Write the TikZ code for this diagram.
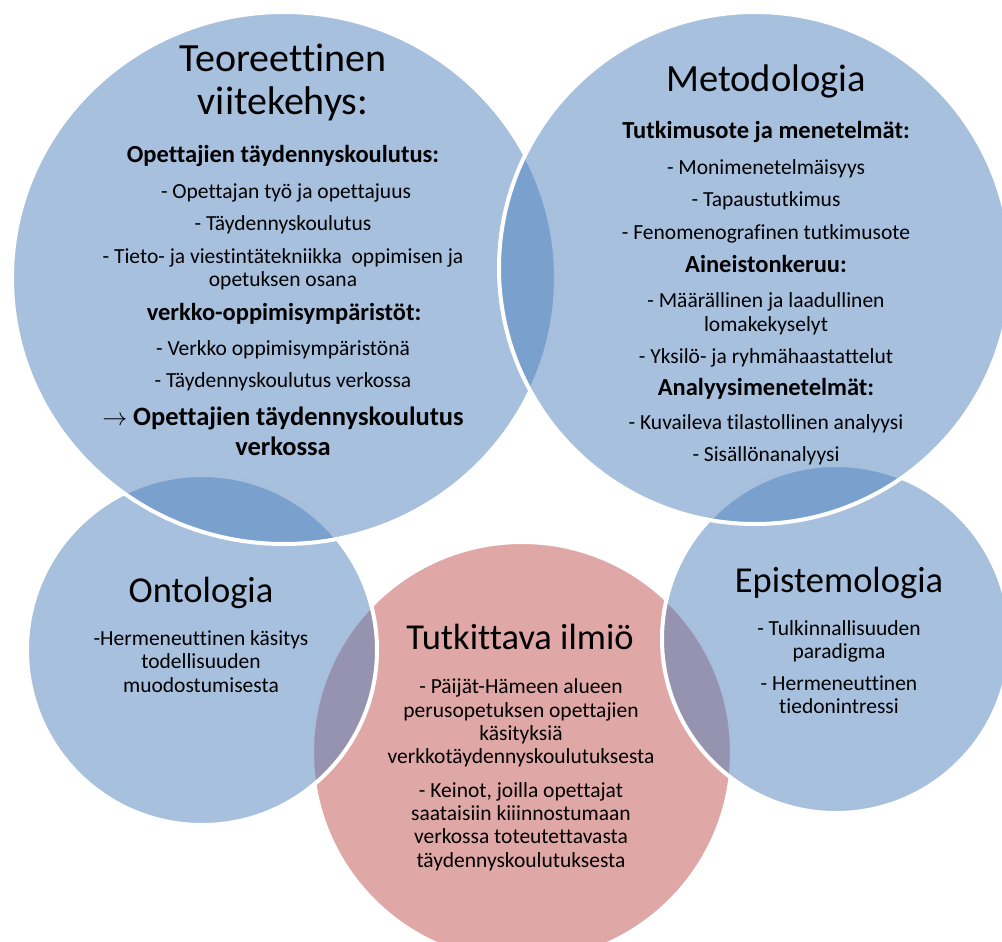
\documentclass[tikz,border=0pt]{standalone}
\usepackage{fontspec}
\setmainfont{Carlito}[RawFeature={-liga;-clig;-calt;-ccmp;-rlig;-dlig}]
\definecolor{vblue}{RGB}{79,129,189}
\definecolor{vred}{RGB}{192,80,77}
\begin{document}
\begin{tikzpicture}[x=1pt,y=-1pt,
  blob/.style={fill opacity=0.5, draw=white, line width=4pt},
  ttl/.style={anchor=base, inner sep=0pt, font=\fontsize{36.5}{40}\selectfont},
  ttlb/.style={anchor=base, inner sep=0pt, font=\fontsize{38.5}{42}\selectfont},
  ttlc/.style={anchor=base, inner sep=0pt, font=\fontsize{40}{43}\selectfont},
  bd/.style={anchor=base, inner sep=0pt, font=\fontsize{21.5}{23}\selectfont},
  hd/.style={anchor=base, inner sep=0pt, font=\bfseries\fontsize{24.5}{26}\selectfont},
  big/.style={anchor=base, inner sep=0pt, font=\bfseries\fontsize{26.5}{28}\selectfont}]
\useasboundingbox (0,0) rectangle (1002,942);
\begin{scope}
\clip (0,0) rectangle (1002,942);
% drawing order: ilmio, ontologia, epistemologia, teoreettinen, metodologia
\path[blob, fill=vred]  (522,752) circle[radius=210];
\path[blob, fill=vblue] (202,650) circle[radius=175];
\path[blob, fill=vblue] (836,639) circle[radius=174];
\path[blob, fill=vblue] (284,278) ellipse[x radius=272, y radius=266];
\path[blob, fill=vblue] (755,268) circle[radius=256];
\end{scope}
% Teoreettinen viitekehys
\node[ttlc] (t1) at (283,72) {Teoreettinen};
\node[ttlc] (t2) at (283,114) {viitekehys:};
\node[hd] (t3) at (283,162) {Opettajien täydennyskoulutus:};
\node[bd] (t4) at (286,198) {- Opettajan työ ja opettajuus};
\node[bd] (t5) at (283,230) {- Täydennyskoulutus};
\node[bd] (t6) at (283,263) {- Tieto- ja viestintätekniikka\ \ oppimisen ja};
\node[bd] (t7) at (283,286) {opetuksen osana};
\node[hd] (t8) at (284,320) {verkko-oppimisympäristöt:};
\node[bd] (t9) at (283,355) {- Verkko oppimisympäristönä};
\node[bd] (t10) at (283,387) {- Täydennyskoulutus verkossa};
\node[big] (t11) at (283,425) {$\rightarrow$ Opettajien täydennyskoulutus};
\node[big] (t12) at (283,455) {verkossa};
% Metodologia
\node[ttlb] (m1) at (766,92) {Metodologia};
\node[hd] (m2) at (766,138) {Tutkimusote ja menetelmät:};
\node[bd] (m3) at (766,174) {- Monimenetelmäisyys};
\node[bd] (m4) at (766,206) {- Tapaustutkimus};
\node[bd] (m5) at (766,239) {- Fenomenografinen tutkimusote};
\node[hd] (m6) at (766,272) {Aineistonkeruu:};
\node[bd] (m7) at (766,307) {- Määrällinen ja laadullinen};
\node[bd] (m8) at (766,331) {lomakekyselyt};
\node[bd] (m9) at (766,363) {- Yksilö- ja ryhmähaastattelut};
\node[hd] (m10) at (766,395) {Analyysimenetelmät:};
\node[bd] (m11) at (766,429) {- Kuvaileva tilastollinen analyysi};
\node[bd] (m12) at (766,461) {- Sisällönanalyysi};
% Ontologia
\node[ttl] (o1) at (201,602) {Ontologia};
\node[bd] (o2) at (201,645) {-Hermeneuttinen käsitys};
\node[bd] (o3) at (201,668) {todellisuuden};
\node[bd] (o4) at (201,692) {muodostumisesta};
% Tutkittava ilmio
\node[ttl] (i1) at (520,649) {Tutkittava ilmiö};
\node[bd] (i2) at (521,693) {- Päijät-Hämeen alueen};
\node[bd] (i3) at (521,717) {perusopetuksen opettajien};
\node[bd] (i4) at (521,740) {käsityksiä};
\node[bd] (i5) at (521,763) {verkkotäydennyskoulutuksesta};
\node[bd] (i6) at (521,797) {- Keinot, joilla opettajat};
\node[bd] (i7) at (521,820) {saataisiin kiiinnostumaan};
\node[bd] (i8) at (521,843) {verkossa toteutettavasta};
\node[bd] (i9) at (521,867) {täydennyskoulutuksesta};
% Epistemologia
\node[ttl] (e1) at (839,592) {Epistemologia};
\node[bd] (e2) at (839,635) {- Tulkinnallisuuden};
\node[bd] (e3) at (839,658) {paradigma};
\node[bd] (e4) at (839,690) {- Hermeneuttinen};
\node[bd] (e5) at (839,713) {tiedonintressi};
\end{tikzpicture}
\end{document}
